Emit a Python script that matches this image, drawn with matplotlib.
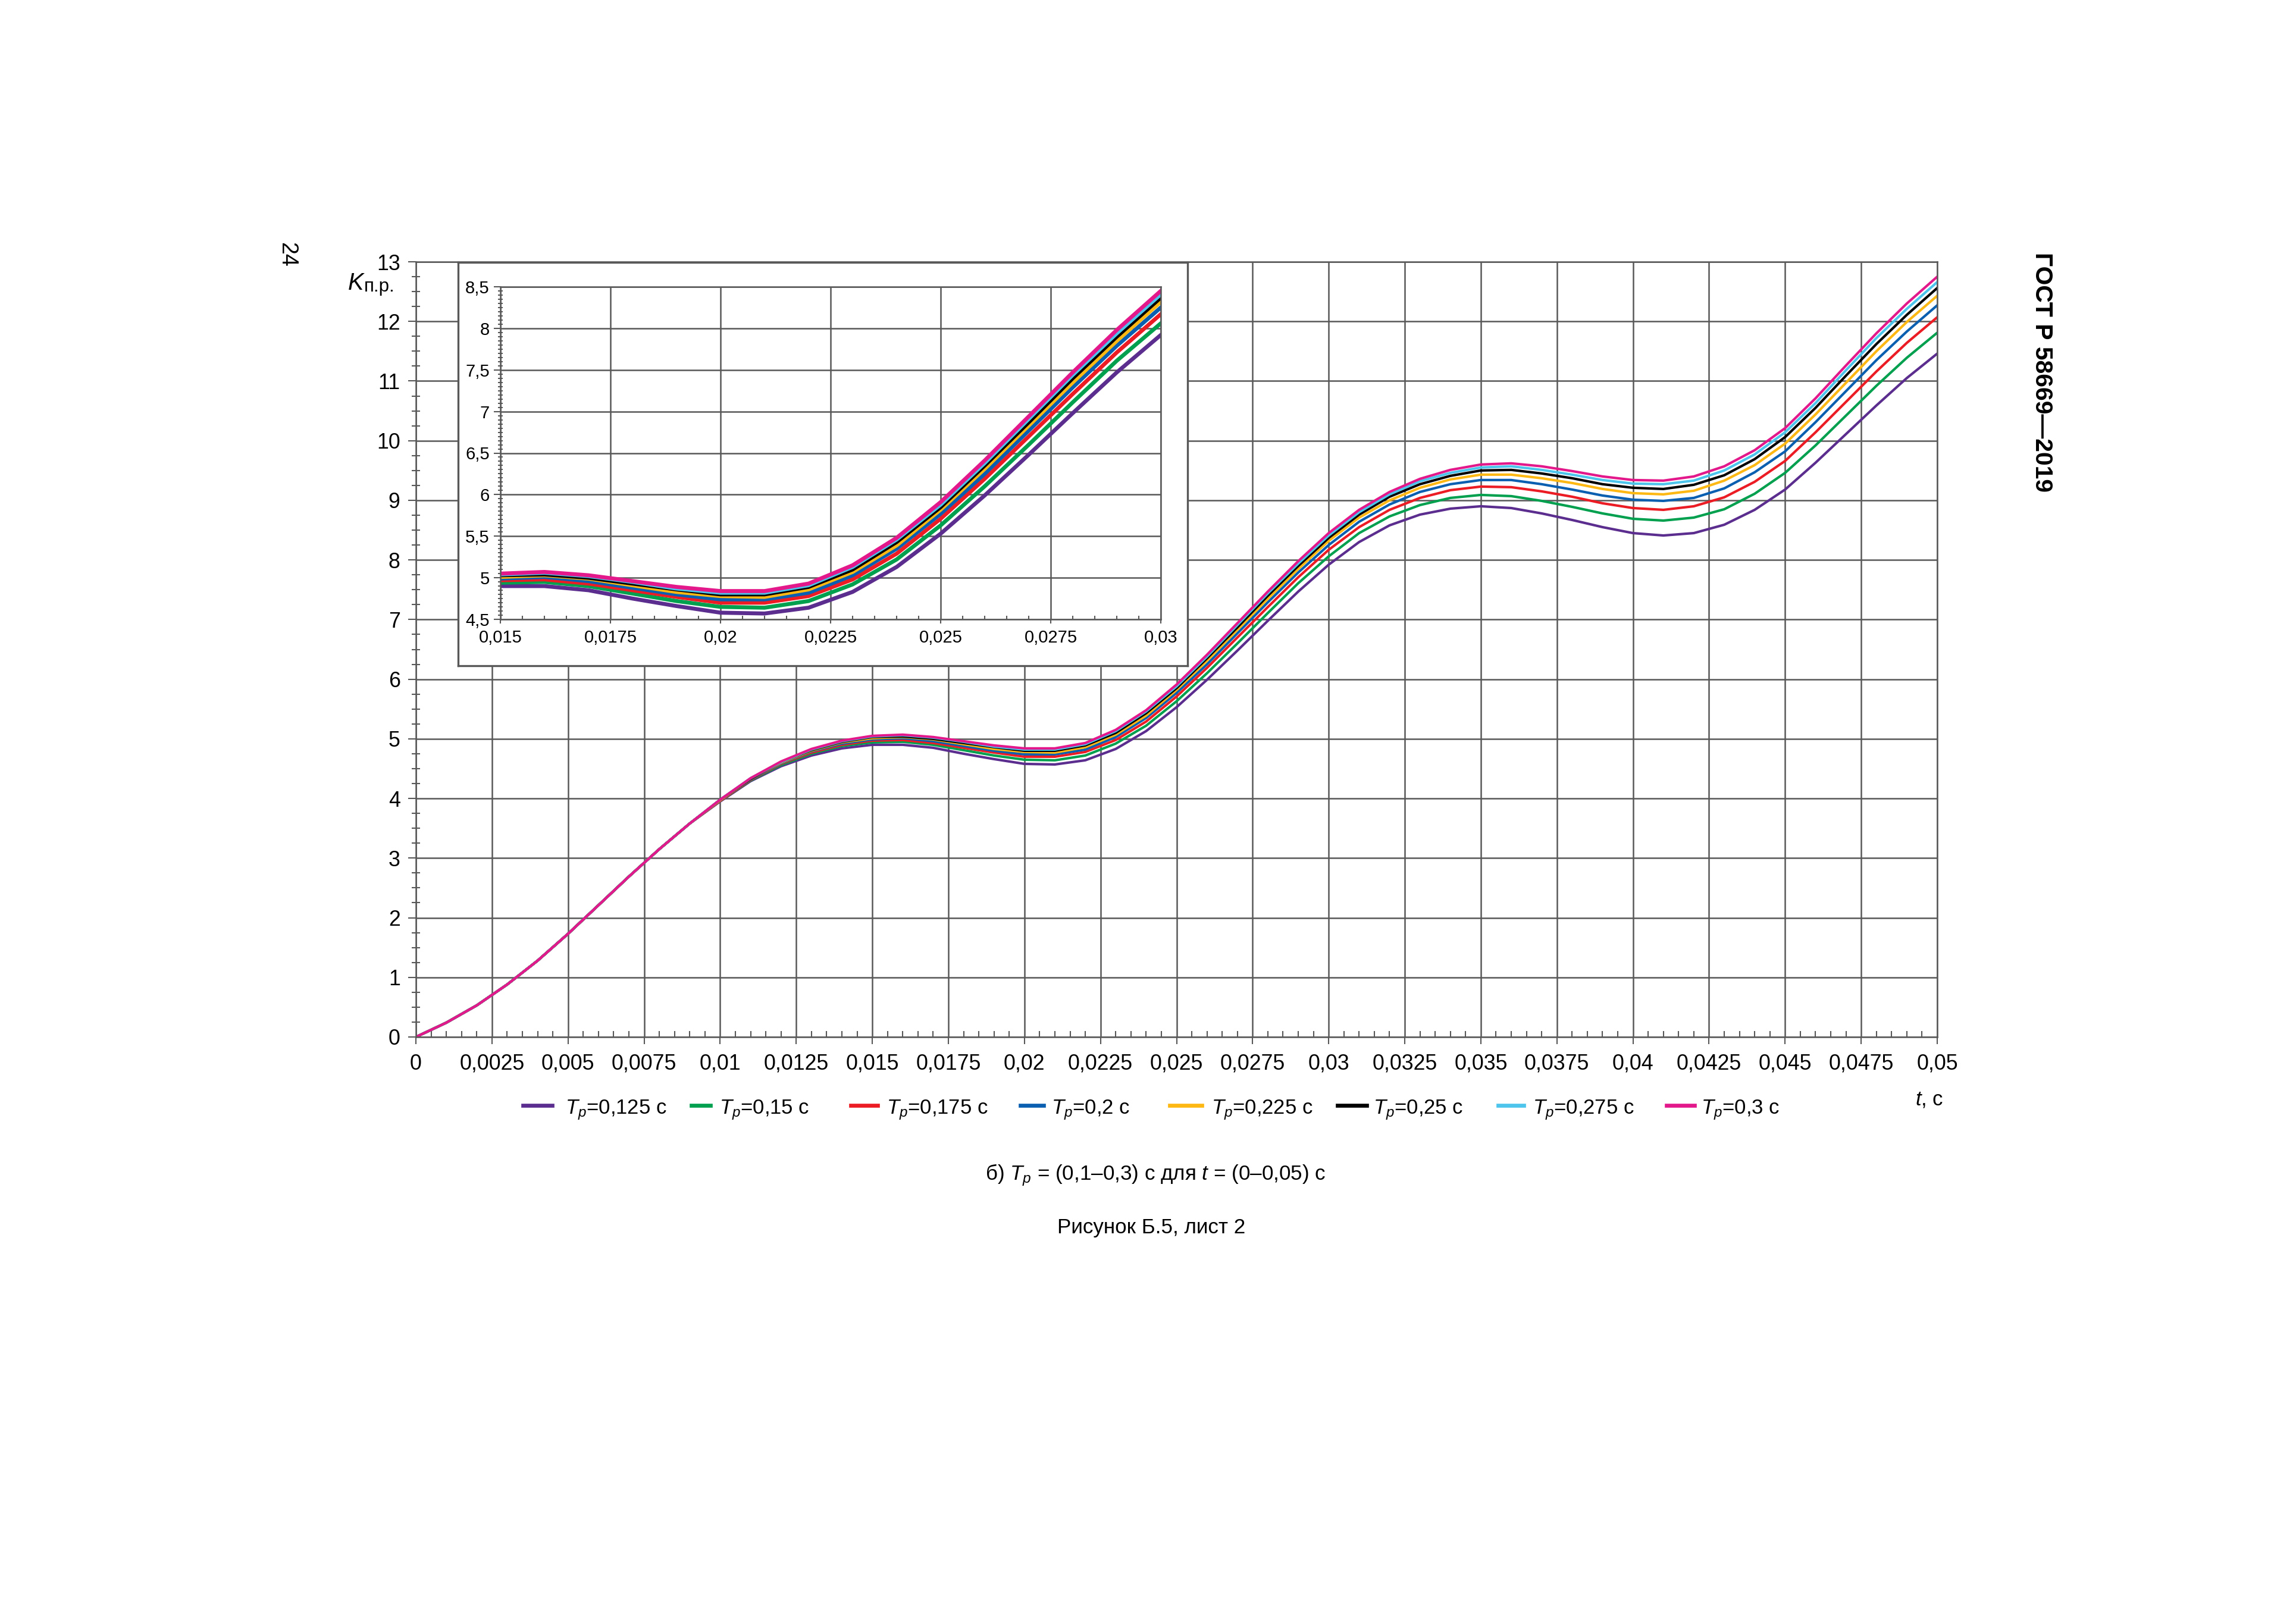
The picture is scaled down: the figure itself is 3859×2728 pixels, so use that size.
# -*- coding: utf-8 -*-

import matplotlib
matplotlib.use('Agg')
import matplotlib.pyplot as plt
from matplotlib.lines import Line2D
from matplotlib.ticker import MultipleLocator
import numpy as np

# Parameters for the figure
plt.rcParams['font.family'] = ['Liberation Sans', 'DejaVu Sans']
plt.rcParams['mathtext.fontset'] = 'custom'
plt.rcParams['mathtext.rm'] = 'Liberation Sans'
plt.rcParams['mathtext.it'] = 'Liberation Sans:italic'
plt.rcParams['axes.linewidth'] = 0.6

W, H = 3859, 2728

# Time axis, s (0 ... 0.05 with 1 ms step)
t = np.linspace(0, 0.05, 51)

# t = 0 ... 0.009 s, all curves coincide
k_common = [0, 0.24, 0.53, 0.88, 1.28, 1.73, 2.21, 2.69, 3.15, 3.58]

# t = 0.010 ... 0.050 s, one list per Tp
k_0125 = [3.95, 4.29, 4.54, 4.72, 4.84, 4.90, 4.90, 4.85, 4.75, 4.66, 4.58, 4.57, 4.64, 4.83,
          5.13, 5.53, 5.99, 6.48, 6.98, 7.47, 7.92, 8.30, 8.58, 8.76, 8.86, 8.90, 8.87, 8.78,
          8.67, 8.55, 8.45, 8.41, 8.45, 8.59, 8.84, 9.18, 9.63, 10.11, 10.59, 11.05, 11.46]
k_015 = [3.96, 4.30, 4.56, 4.75, 4.88, 4.94, 4.95, 4.90, 4.81, 4.72, 4.65, 4.64, 4.72, 4.92,
         5.22, 5.63, 6.10, 6.60, 7.11, 7.61, 8.06, 8.45, 8.73, 8.92, 9.04, 9.09, 9.07, 8.99,
         8.89, 8.78, 8.69, 8.66, 8.71, 8.85, 9.11, 9.46, 9.92, 10.42, 10.92, 11.39, 11.81]
k_0175 = [3.96, 4.31, 4.58, 4.77, 4.90, 4.97, 4.98, 4.93, 4.85, 4.77, 4.70, 4.70, 4.78, 4.98,
          5.29, 5.71, 6.19, 6.70, 7.21, 7.71, 8.17, 8.55, 8.84, 9.04, 9.17, 9.23, 9.22, 9.15,
          9.06, 8.95, 8.87, 8.84, 8.90, 9.05, 9.31, 9.66, 10.14, 10.65, 11.16, 11.64, 12.07]
k_02 = [3.97, 4.32, 4.59, 4.79, 4.92, 4.99, 5.01, 4.96, 4.88, 4.80, 4.74, 4.74, 4.82, 5.03,
        5.35, 5.77, 6.25, 6.77, 7.29, 7.79, 8.25, 8.64, 8.93, 9.14, 9.27, 9.34, 9.34, 9.27,
        9.18, 9.08, 9.01, 8.99, 9.04, 9.20, 9.47, 9.82, 10.31, 10.83, 11.35, 11.83, 12.27]
k_0225 = [3.97, 4.33, 4.60, 4.80, 4.94, 5.01, 5.03, 4.99, 4.91, 4.83, 4.78, 4.77, 4.86, 5.07,
          5.39, 5.82, 6.31, 6.83, 7.35, 7.85, 8.32, 8.71, 9.00, 9.21, 9.35, 9.43, 9.43, 9.37,
          9.29, 9.19, 9.12, 9.10, 9.16, 9.33, 9.59, 9.95, 10.44, 10.97, 11.50, 11.99, 12.43]
k_025 = [3.98, 4.33, 4.61, 4.81, 4.95, 5.03, 5.04, 5.00, 4.93, 4.86, 4.80, 4.80, 4.89, 5.10,
         5.43, 5.85, 6.35, 6.87, 7.40, 7.90, 8.37, 8.76, 9.06, 9.27, 9.41, 9.50, 9.51, 9.45,
         9.37, 9.27, 9.21, 9.19, 9.26, 9.42, 9.69, 10.06, 10.55, 11.09, 11.62, 12.11, 12.56]
k_0275 = [3.98, 4.34, 4.61, 4.82, 4.96, 5.04, 5.06, 5.02, 4.95, 4.87, 4.82, 4.82, 4.91, 5.13,
          5.46, 5.88, 6.38, 6.91, 7.44, 7.94, 8.41, 8.80, 9.10, 9.32, 9.46, 9.55, 9.57, 9.51,
          9.43, 9.34, 9.28, 9.27, 9.33, 9.50, 9.77, 10.14, 10.63, 11.18, 11.72, 12.21, 12.66]
k_03 = [3.98, 4.34, 4.62, 4.83, 4.97, 5.05, 5.07, 5.03, 4.96, 4.89, 4.84, 4.84, 4.93, 5.15,
        5.48, 5.91, 6.41, 6.94, 7.47, 7.98, 8.45, 8.84, 9.14, 9.36, 9.51, 9.60, 9.62, 9.57,
        9.49, 9.40, 9.34, 9.33, 9.40, 9.57, 9.84, 10.21, 10.71, 11.26, 11.80, 12.30, 12.75]

series = [k_0125, k_015, k_0175, k_02, k_0225, k_025, k_0275, k_03]
tp_labels = ['0,125', '0,15', '0,175', '0,2', '0,225', '0,25', '0,275', '0,3']
colors = ['#5b2d8e', '#00a04f', '#ec1c24', '#0a5fb0', '#fdb813', '#000000', '#4cc4ec', '#e3198b']

# Tick labels
main_xlabels = ['0', '0,0025', '0,005', '0,0075', '0,01', '0,0125', '0,015', '0,0175', '0,02',
                '0,0225', '0,025', '0,0275', '0,03', '0,0325', '0,035', '0,0375', '0,04',
                '0,0425', '0,045', '0,0475', '0,05']
main_ylabels = [str(i) for i in range(14)]
ins_xlabels = ['0,015', '0,0175', '0,02', '0,0225', '0,025', '0,0275', '0,03']
ins_ylabels = ['4,5', '5', '5,5', '6', '6,5', '7', '7,5', '8', '8,5']

grid_c = '#585858'


def fx(px):
    return px / W


def fy(py):
    return 1 - py / H


fig = plt.figure(figsize=(W / 300, H / 300), dpi=300)

# Main axes
ax = fig.add_axes([fx(699), fy(1743), fx(3256) - fx(699), fy(440) - fy(1743)])
for k, c in zip(series, colors):
    ax.plot(t, k_common + k, color=c, lw=1.0, solid_joinstyle='round')
ax.set_xlim(0, 0.05)
ax.set_ylim(0, 13)
ax.set_xticks(np.linspace(0, 0.05, 21), main_xlabels)
ax.set_yticks(range(14), main_ylabels)
ax.xaxis.set_minor_locator(MultipleLocator(0.0005))
ax.yaxis.set_minor_locator(MultipleLocator(0.25))
ax.grid(which='major', color=grid_c, lw=0.6)
ax.tick_params(which='both', color=grid_c, width=0.5)
ax.tick_params(which='major', direction='out', labelsize=8.6)
ax.tick_params(axis='x', which='major', length=2.9, pad=3.8)
ax.tick_params(axis='y', which='major', length=3.1, pad=3.2)
ax.tick_params(axis='x', which='minor', direction='in', length=2.4)
ax.tick_params(axis='y', which='minor', direction='inout', length=3.2)
for s in ax.spines.values():
    s.set_color(grid_c)
ax.set_axisbelow(True)

# Frame of the zoomed fragment
frame = fig.add_axes([fx(770), fy(1119), fx(1996) - fx(770), fy(441) - fy(1119)])
frame.set_xticks([])
frame.set_yticks([])
frame.set_facecolor('white')
for s in frame.spines.values():
    s.set_color(grid_c)
    s.set_linewidth(0.8)

# Zoomed fragment
ins = fig.add_axes([fx(841), fy(1041), fx(1951) - fx(841), fy(482) - fy(1041)])
for k, c in zip(series, colors):
    ins.plot(t, k_common + k, color=c, lw=1.6, solid_joinstyle='round')
ins.set_xlim(0.015, 0.03)
ins.set_ylim(4.5, 8.5)
ins.set_xticks(np.linspace(0.015, 0.03, 7), ins_xlabels)
ins.set_yticks(np.linspace(4.5, 8.5, 9), ins_ylabels)
ins.xaxis.set_minor_locator(MultipleLocator(0.0005))
ins.yaxis.set_minor_locator(MultipleLocator(0.05))
ins.grid(which='major', color=grid_c, lw=0.6)
ins.tick_params(which='both', color=grid_c, width=0.5)
ins.tick_params(which='major', direction='out', labelsize=7.0)
ins.tick_params(axis='x', which='major', length=1.6, pad=2.6)
ins.tick_params(axis='y', which='major', length=2.6, pad=1.8)
ins.tick_params(axis='x', which='minor', direction='in', length=1.4)
ins.tick_params(axis='y', which='minor', direction='inout', length=2.1)
for s in ins.spines.values():
    s.set_color(grid_c)
ins.set_axisbelow(True)

# Axis labels
fig.text(fx(585), fy(487), 'K', fontsize=9.5, style='italic', va='baseline')
fig.text(fx(612), fy(490), 'п.р.', fontsize=7.5, va='baseline')
fig.text(fx(3219), fy(1857), '$t$, с', fontsize=8.3, va='baseline')

# Legend (drawn by hand to keep the original spacing)
leg_x0 = [879, 1162, 1430, 1715, 1966, 2248, 2518, 2801]
leg_x1 = [928, 1194, 1475, 1754, 2020, 2297, 2561, 2848]
leg_tx = [950, 1209, 1490, 1767, 2036, 2308, 2576, 2859]
for x0, x1, tx, c, lab in zip(leg_x0, leg_x1, leg_tx, colors, tp_labels):
    fig.add_artist(Line2D([fx(x0), fx(x1)], [fy(1858), fy(1858)], color=c, lw=1.6,
                          transform=fig.transFigure))
    fig.text(fx(tx), fy(1872), '$T_p$=' + lab + ' с', fontsize=8.3, va='baseline')

# Captions
fig.text(fx(1942), fy(1983), 'б) $T_p$ = (0,1–0,3) с для $t$ = (0–0,05) с',
         fontsize=8.4, ha='center', va='baseline')
fig.text(fx(1935), fy(2073), 'Рисунок Б.5, лист 2', fontsize=8.4, ha='center', va='baseline')

# Page number and document code
fig.text(fx(482), fy(428), '24', fontsize=9, rotation=-90, ha='center', va='center')
fig.text(fx(3432), fy(625), 'ГОСТ Р 58669—2019', fontsize=9.8, fontweight='bold',
         rotation=-90, ha='center', va='center')

fig.savefig('out.png', dpi=300)
